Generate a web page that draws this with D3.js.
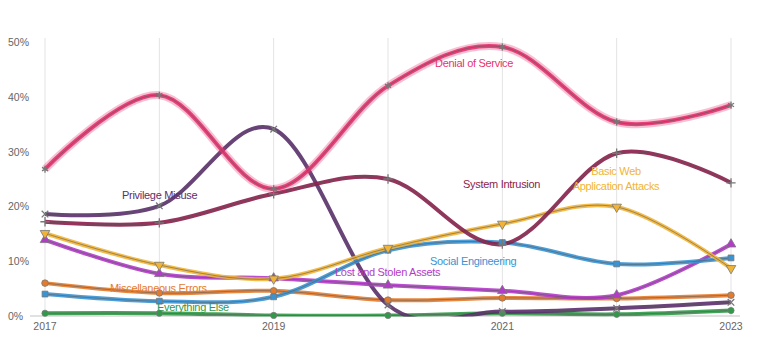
<!DOCTYPE html>
<html lang="en">
<head>
<meta charset="utf-8">
<script src="https://cdnjs.cloudflare.com/ajax/libs/d3/7.8.5/d3.min.js"></script>
<style>
    body { margin: 0; background: #fff; }
    svg { display: block; font-family: 'Liberation Sans', Arial, sans-serif; }
    .tick-label { fill: #666; font-size: 10.5px; }
    .series-label { font-size: 11px; letter-spacing: -0.3px; }
</style>
</head>
<body>
<svg></svg>
<script>
    const years = [2017, 2018, 2019, 2020, 2021, 2022, 2023]
    const yearLabels = [2017, 2019, 2021, 2023]
    const yTicks = [0, 10, 20, 30, 40, 50]

    const denialOfService = [26.8, 40.3, 23.2, 42.0, 49.1, 35.4, 38.5]
    const privilegeMisuse = [18.6, 20.1, 34.1, 2.0, 0.8, 1.4, 2.5]
    const systemIntrusion = [17.2, 17.0, 22.3, 25.0, 13.1, 29.7, 24.3]
    const basicWeb = [15.1, 9.3, 6.8, 12.4, 16.8, 19.9, 8.7]
    const socialEngineering = [4.0, 2.7, 3.5, 12.0, 13.4, 9.5, 10.6]
    const lostStolen = [13.9, 7.7, 6.9, 5.6, 4.6, 3.8, 13.1]
    const miscErrors = [6.0, 4.2, 4.6, 2.9, 3.3, 3.2, 3.8]
    const everythingElse = [0.5, 0.5, 0.1, 0.1, 0.5, 0.3, 1.0]

    const series = [
        { name: 'Everything Else', values: everythingElse, color: '#2f9a47', symbol: d3.symbolCircle, size: 30,
          label: ['Everything Else'], lx: 157, ly: 311 },
        { name: 'Miscellaneous Errors', values: miscErrors, color: '#e47b2c', symbol: d3.symbolCircle, size: 34,
          label: ['Miscellaneous Errors'], lx: 110, ly: 292 },
        { name: 'Privilege Misuse', values: privilegeMisuse, color: '#5b2e6e', symbol: d3.symbolTimes, size: 30, stroke: true,
          label: ['Privilege Misuse'], lx: 122, ly: 199 },
        { name: 'Lost and Stolen Assets', values: lostStolen, color: '#b33bc9', symbol: d3.symbolTriangle, size: 40,
          label: ['Lost and Stolen Assets'], lx: 335, ly: 276 },
        { name: 'Social Engineering', values: socialEngineering, color: '#3a93d3', symbol: d3.symbolSquare, size: 34,
          label: ['Social Engineering'], lx: 430, ly: 265 },
        { name: 'Basic Web Application Attacks', values: basicWeb, color: '#f1b436', symbol: d3.symbolTriangle, size: 40, flip: true,
          label: ['Basic Web', 'Application Attacks'], lx: 616, ly: 175, anchor: 'middle' },
        { name: 'System Intrusion', values: systemIntrusion, color: '#8c1d4b', symbol: d3.symbolPlus, size: 30, stroke: true,
          label: ['System Intrusion'], lx: 463, ly: 188 },
        { name: 'Denial of Service', values: denialOfService, color: '#e6336f', symbol: d3.symbolAsterisk, size: 34, stroke: true, glow: true,
          label: ['Denial of Service'], lx: 435, ly: 67 }
    ]

    const w = 770, h = 344
    const x = d3.scaleLinear().domain([2017, 2023]).range([45, 731])
    const y = d3.scaleLinear().domain([0, 50]).range([316, 42])

    const svg = d3.select('svg').attr('width', w).attr('height', h)

    svg.append('defs').append('clipPath').attr('id', 'plot')
        .append('rect').attr('x', 0).attr('y', 30).attr('width', w).attr('height', y(0) - 30 + 0.5)

    // vertical grid
    svg.append('g').selectAll('line').data(years).enter().append('line')
        .attr('x1', d => x(d)).attr('x2', d => x(d))
        .attr('y1', 38).attr('y2', y(0))
        .attr('stroke', '#e3e3e3').attr('stroke-width', 1)

    // baseline
    svg.append('line').attr('x1', 30).attr('x2', 740).attr('y1', y(0)).attr('y2', y(0))
        .attr('stroke', '#c4c4c4').attr('stroke-width', 1.2)

    svg.append('g').selectAll('text').data(yTicks).enter().append('text')
        .attr('class', 'tick-label')
        .attr('x', 8).attr('y', d => y(d) + 4)
        .text(d => d + '%')

    svg.append('g').selectAll('text').data(yearLabels).enter().append('text')
        .attr('class', 'tick-label')
        .attr('x', d => x(d)).attr('y', 330).attr('text-anchor', 'middle')
        .text(d => d)

    const line = d3.line()
        .x((d, i) => x(years[i]))
        .y(d => y(d))
        .curve(d3.curveCardinal.tension(0))

    const lines = svg.append('g').attr('clip-path', 'url(#plot)')
    series.forEach(s => {
        const g = lines.append('g')
        if (s.glow) {
            g.append('path').attr('d', line(s.values)).attr('fill', 'none')
                .attr('stroke', s.color).attr('stroke-opacity', 0.3).attr('stroke-width', 8)
        }
        g.append('path').attr('d', line(s.values)).attr('fill', 'none')
            .attr('stroke', s.color).attr('stroke-width', 4).attr('stroke-opacity', 0.9)
        g.append('path').attr('d', line(s.values)).attr('fill', 'none')
            .attr('stroke', '#555').attr('stroke-opacity', 0.55).attr('stroke-width', 1)
    })

    const marks = svg.append('g')
    series.forEach(s => {
        const sym = d3.symbol().type(s.symbol).size(s.size)
        marks.append('g').selectAll('path').data(s.values).enter().append('path')
            .attr('d', sym)
            .attr('transform', (d, i) => 'translate(' + x(years[i]) + ',' + y(d) + ')' + (s.flip ? ' rotate(180)' : ''))
            .attr('fill', s.stroke ? 'none' : s.color)
            .attr('stroke', '#777')
            .attr('stroke-width', s.stroke ? 1.3 : 0.8)
    })

    const labels = svg.append('g')
    series.forEach(s => {
        const t = labels.append('text').attr('class', 'series-label')
            .attr('x', s.lx).attr('y', s.ly)
            .attr('text-anchor', s.anchor || 'start')
            .attr('fill', s.color)
        s.label.forEach((l, i) => {
            t.append('tspan').attr('x', s.lx).attr('dy', i === 0 ? 0 : 15).text(l)
        })
    })
</script>
</body>
</html>
